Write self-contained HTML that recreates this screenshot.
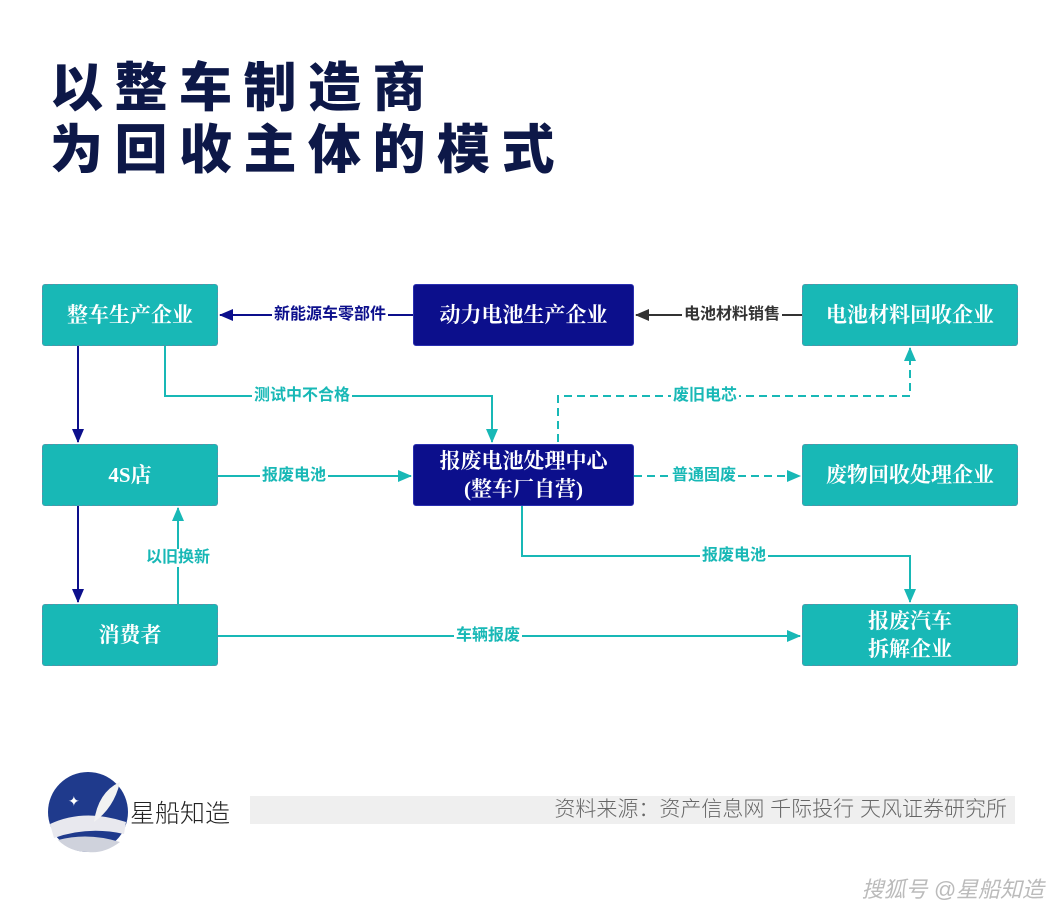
<!DOCTYPE html>
<html><head><meta charset="utf-8"><style>
body{margin:0;width:1060px;height:908px;background:#fff;position:relative;overflow:hidden;font-family:"Liberation Serif","Noto Serif CJK SC",serif}
.t{position:absolute;left:50px;font-family:"Liberation Sans","Noto Sans CJK SC",sans-serif;font-weight:900;font-size:53px;letter-spacing:11.5px;color:#0d1848;line-height:1}
.b{position:absolute;display:flex;align-items:center;justify-content:center;text-align:center;color:#fff;font-size:21px;font-weight:bold;box-sizing:border-box;border-radius:3px;line-height:1.35}
.tl{background:#18b8b6;border:1.5px dashed #5a8fa6}
.nv{background:#0c0f8c;border:1.5px solid #2a2fb0}
.lb{position:absolute;background:#fff;font-family:"Liberation Sans","Noto Sans CJK SC",sans-serif;font-size:16px;font-weight:bold;padding:0 2px;line-height:18px;transform:translate(-50%,-50%);white-space:nowrap}
</style></head><body>
<div class="t" style="top:62px">以整车制造商</div>
<div class="t" style="top:124px">为回收主体的模式</div>

<svg width="1060" height="908" style="position:absolute;left:0;top:0">
<defs>
<marker id="an" markerWidth="14" markerHeight="12" refX="13" refY="6" orient="auto" markerUnits="userSpaceOnUse"><path d="M0,0 L14,6 L0,12z" fill="#0c0f8c"/></marker>
<marker id="ag" markerWidth="14" markerHeight="12" refX="13" refY="6" orient="auto" markerUnits="userSpaceOnUse"><path d="M0,0 L14,6 L0,12z" fill="#333"/></marker>
<marker id="at" markerWidth="14" markerHeight="12" refX="13" refY="6" orient="auto" markerUnits="userSpaceOnUse"><path d="M0,0 L14,6 L0,12z" fill="#18b8b6"/></marker>
</defs>
<g fill="none" stroke-width="2">
<path d="M413 315 H220" stroke="#0c0f8c" marker-end="url(#an)"/>
<path d="M802 315 H636" stroke="#333" marker-end="url(#ag)"/>
<path d="M78 346 V442" stroke="#0c0f8c" marker-end="url(#an)"/>
<path d="M78 506 V602" stroke="#0c0f8c" marker-end="url(#an)"/>
<path d="M165 346 V396 H492 V442" stroke="#18b8b6" marker-end="url(#at)"/>
<path d="M558 442 V396 H910 V348" stroke="#18b8b6" stroke-dasharray="8,5" marker-end="url(#at)"/>
<path d="M218 476 H411" stroke="#18b8b6" marker-end="url(#at)"/>
<path d="M634 476 H800" stroke="#18b8b6" stroke-dasharray="8,5" marker-end="url(#at)"/>
<path d="M522 506 V556 H910 V602" stroke="#18b8b6" marker-end="url(#at)"/>
<path d="M178 604 V508" stroke="#18b8b6" marker-end="url(#at)"/>
<path d="M218 636 H800" stroke="#18b8b6" marker-end="url(#at)"/>
</g>
</svg>

<div class="b tl" style="left:42px;top:284px;width:176px;height:62px">整车生产企业</div>
<div class="b tl" style="left:42px;top:444px;width:176px;height:62px">4S店</div>
<div class="b tl" style="left:42px;top:604px;width:176px;height:62px">消费者</div>
<div class="b nv" style="left:413px;top:284px;width:221px;height:62px">动力电池生产企业</div>
<div class="b nv" style="left:413px;top:444px;width:221px;height:62px">报废电池处理中心<br>(整车厂自营)</div>
<div class="b tl" style="left:802px;top:284px;width:216px;height:62px">电池材料回收企业</div>
<div class="b tl" style="left:802px;top:444px;width:216px;height:62px">废物回收处理企业</div>
<div class="b tl" style="left:802px;top:604px;width:216px;height:62px">报废汽车<br>拆解企业</div>

<div class="lb" style="left:330px;top:315px;color:#0c0f8c">新能源车零部件</div>
<div class="lb" style="left:732px;top:315px;color:#333">电池材料销售</div>
<div class="lb" style="left:302px;top:396px;color:#18b8b6">测试中不合格</div>
<div class="lb" style="left:705px;top:396px;color:#18b8b6">废旧电芯</div>
<div class="lb" style="left:294px;top:476px;color:#18b8b6">报废电池</div>
<div class="lb" style="left:704px;top:476px;color:#18b8b6">普通固废</div>
<div class="lb" style="left:734px;top:556px;color:#18b8b6">报废电池</div>
<div class="lb" style="left:178px;top:558px;color:#18b8b6">以旧换新</div>
<div class="lb" style="left:488px;top:636px;color:#18b8b6">车辆报废</div>

<svg width="90" height="90" style="position:absolute;left:44px;top:768px">
<circle cx="44" cy="44" r="40" fill="#1f3a8c"/>
<path d="M6 56 Q40 40 82 54 L80 66 Q44 58 10 70z" fill="#e8e8ee"/>
<path d="M14 72 Q44 64 76 74 Q60 86 44 84 Q26 84 14 72z" fill="#cfd2dc"/>
<path d="M50 54 Q54 24 76 14 Q70 40 50 54z" fill="#f2f2f2"/>
<text x="24" y="38" fill="#fff" font-size="14">✦</text>
</svg>
<div style="position:absolute;left:130px;top:794px;font-family:'Liberation Sans','Noto Sans CJK SC',sans-serif;font-size:25px;color:#222;font-weight:300">星船知造</div>
<div style="position:absolute;left:250px;top:796px;width:765px;height:28px;background:#efefef;box-sizing:border-box;padding-right:8px;text-align:right;font-family:'Liberation Sans','Noto Sans CJK SC',sans-serif;font-size:21px;line-height:28px;color:#666;font-weight:300">资料来源：资产信息网 千际投行 天风证券研究所</div>
<div style="position:absolute;right:16px;top:872px;font-family:'Liberation Sans','Noto Sans CJK SC',sans-serif;font-size:22px;color:#bbb;font-style:italic">搜狐号 @星船知造</div>
</body></html>
